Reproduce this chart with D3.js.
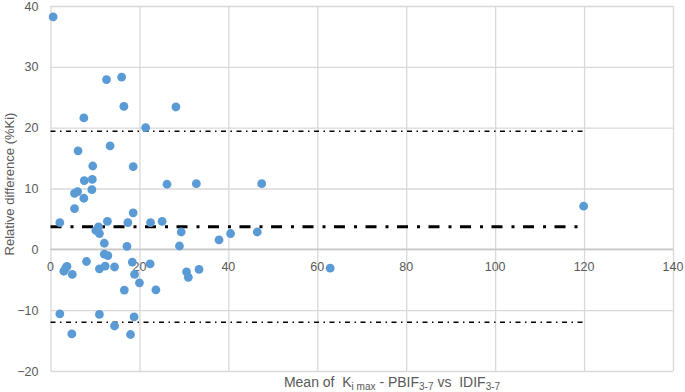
<!DOCTYPE html>
<html>
<head>
<meta charset="utf-8">
<script src="https://cdn.jsdelivr.net/npm/d3@7/dist/d3.min.js"></script>
<style>
  body { margin: 0; background: #fff; }
  svg text { font-family: "Liberation Sans", "DejaVu Sans", sans-serif; fill: #595959; white-space: pre; }
</style>
</head>
<body>
<div id="chart"></div>
<script>
// mean of the two methods (x) and relative difference in % (y)
var meanKi = [0.6, 12.6, 16.0, 16.5, 7.5, 28.2, 21.4, 6.2, 13.4, 9.5, 18.6, 26.2, 32.8, 47.5,
  7.6, 9.4, 9.3, 5.4, 6.1, 7.5, 5.4, 18.6, 2.1, 10.8, 10.2, 11.0, 12.8, 17.4, 22.5, 25.1,
  29.4, 29.0, 12.1, 17.2, 12.1, 12.9, 37.9, 40.5, 46.5, 119.9, 8.1, 3.0, 3.4, 3.7, 4.9,
  11.0, 12.3, 14.4, 18.4, 22.4, 18.9, 20.0, 16.6, 23.7, 30.6, 31.0, 33.4, 62.9, 2.1, 11.0,
  18.8, 4.8, 14.4, 18.0];
var relDiff = [38.2, 27.9, 28.3, 23.5, 21.6, 23.4, 20.0, 16.2, 17.0, 13.7, 13.6, 10.7, 10.8, 10.8,
  11.3, 11.5, 9.8, 9.2, 9.5, 8.4, 6.7, 6.0, 4.4, 3.7, 3.1, 2.6, 4.6, 4.4, 4.4, 4.6,
  2.85, 0.55, 1.0, 0.5, -0.8, -1.05, 1.55, 2.6, 2.85, 7.1, -2.0, -3.6, -3.1, -2.8, -4.1,
  -3.2, -2.75, -2.9, -2.1, -2.4, -4.1, -5.5, -6.7, -6.65, -3.7, -4.6, -3.3, -3.1, -10.6, -10.7,
  -11.1, -13.9, -12.6, -14.0];

var meanBias = 3.7;
var upperLoA = 19.4;
var lowerLoA = -12.0;
var lineRange = [0, 120];

var xTicks = [0, 20, 40, 60, 80, 100, 120, 140];
var yTicks = [-20, -10, 0, 10, 20, 30, 40];

var data = meanKi.map(function (d, i) { return [d, relDiff[i]]; });

var svgWidth = 685, svgHeight = 392;
var plotLeft = 50.5, plotRight = 673, plotTop = 6, plotBottom = 371;

var svg = d3.select("#chart").append("svg")
  .attr("width", svgWidth)
  .attr("height", svgHeight);

var xScale = d3.scaleLinear().domain([0, 140]).range([plotLeft, plotRight]);
var yScale = d3.scaleLinear().domain([-20, 40]).range([plotBottom, plotTop]);

// gridlines
svg.append("g")
  .attr("transform", "translate(0," + plotBottom + ")")
  .call(d3.axisBottom(xScale).tickValues(xTicks).tickSize(-(plotBottom - plotTop)).tickFormat(""))
  .call(function (g) {
    g.select(".domain").remove();
    g.selectAll("line").attr("stroke", "#d9d9d9").attr("stroke-width", 1.3);
  });

svg.append("g")
  .attr("transform", "translate(" + plotLeft + ",0)")
  .call(d3.axisLeft(yScale).tickValues(yTicks).tickSize(-(plotRight - plotLeft)).tickPadding(12))
  .call(function (g) {
    g.select(".domain").remove();
    g.selectAll("line").attr("stroke", "#d9d9d9").attr("stroke-width", 1.3);
    g.selectAll("text").attr("font-size", 12.5).attr("font-family", null).style("fill", "#595959");
  });

// x axis at y = 0
svg.append("line")
  .attr("x1", plotLeft).attr("x2", plotRight)
  .attr("y1", yScale(0)).attr("y2", yScale(0))
  .attr("stroke", "#c8c8c8").attr("stroke-width", 1.5);

svg.append("g")
  .selectAll("text")
  .data(xTicks)
  .enter()
  .append("text")
  .attr("x", function (d) { return xScale(d); })
  .attr("y", yScale(0) + 22)
  .attr("text-anchor", "middle")
  .attr("font-size", 12.5)
  .text(function (d) { return d; });

// bias and limits of agreement
var refLines = [
  { v: upperLoA, w: 1.5, dash: "5,4.5,1.5,4.5" },
  { v: meanBias, w: 3, dash: "11,9,3,8.5" },
  { v: lowerLoA, w: 1.5, dash: "5,4.5,1.5,4.5" }
];
svg.selectAll(".ref")
  .data(refLines)
  .enter()
  .append("line")
  .attr("class", "ref")
  .attr("x1", xScale(lineRange[0]))
  .attr("x2", xScale(lineRange[1]))
  .attr("y1", function (d) { return yScale(d.v); })
  .attr("y2", function (d) { return yScale(d.v); })
  .attr("stroke", "#000")
  .attr("stroke-width", function (d) { return d.w; })
  .attr("stroke-dasharray", function (d) { return d.dash; });

// points
svg.selectAll(".dot")
  .data(data)
  .enter()
  .append("circle")
  .attr("class", "dot")
  .attr("r", 4.4)
  .attr("fill", "#5b9bd5")
  .attr("cx", function (d) { return xScale(d[0]); })
  .attr("cy", function (d) { return yScale(d[1]); });

// axis titles
svg.append("text")
  .attr("transform", "translate(14,184) rotate(-90)")
  .attr("text-anchor", "middle")
  .attr("font-size", 13)
  .text("Relative difference (%Ki)");

var xt = svg.append("text")
  .attr("x", 392)
  .attr("y", 387)
  .attr("text-anchor", "middle")
  .attr("font-size", 14);
xt.append("tspan").text("Mean of  K");
xt.append("tspan").attr("font-size", 10).attr("dy", 3).text("i max");
xt.append("tspan").attr("dy", -3).text(" - PBIF");
xt.append("tspan").attr("font-size", 10).attr("dy", 3).text("3-7");
xt.append("tspan").attr("dy", -3).text(" vs  IDIF");
xt.append("tspan").attr("font-size", 10).attr("dy", 3).text("3-7");
</script>
</body>
</html>
